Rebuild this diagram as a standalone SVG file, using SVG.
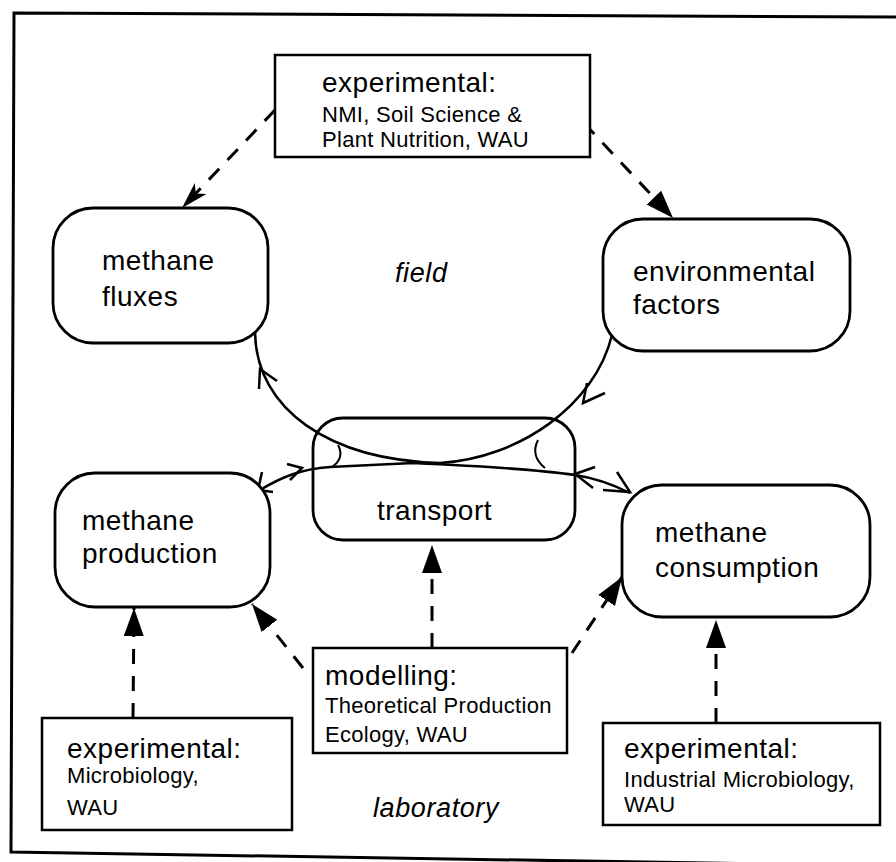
<svg xmlns="http://www.w3.org/2000/svg" width="896" height="862" viewBox="0 0 896 862">
<style>
.frame{fill:none;stroke:#000;stroke-width:3}
.node{fill:#fff;stroke:#000;stroke-width:2.8}
.box{fill:#fff;stroke:#000;stroke-width:2.5}
.big{font-family:"Liberation Sans",Arial,sans-serif;font-size:28px;letter-spacing:0.5px;fill:#000}
.small{font-family:"Liberation Sans",Arial,sans-serif;font-size:22px;letter-spacing:0.3px;fill:#000}
.ital{font-family:"Liberation Sans",Arial,sans-serif;font-size:27px;font-style:italic;letter-spacing:0.6px;fill:#000}
.dash{fill:none;stroke:#000;stroke-width:3;stroke-dasharray:15 12}
.solid{fill:none;stroke:#000;stroke-width:2.5}
.head{fill:none;stroke:#000;stroke-width:2.5;stroke-linejoin:miter}
.thin{fill:none;stroke:#000;stroke-width:2}
</style>
<defs>
<marker id="tri" viewBox="0 -11 29 22" markerWidth="29" markerHeight="22" refX="28" refY="0" orient="auto" markerUnits="userSpaceOnUse">
<path d="M0,-10 L28,0 L0,10 z" fill="#000"/>
</marker>
<marker id="dart" viewBox="0 -10 28 20" markerWidth="28" markerHeight="20" refX="27" refY="0" orient="auto" markerUnits="userSpaceOnUse">
<path d="M0,-8 L27,0 L0,8 L7,0 z" fill="#000"/>
</marker>
</defs>
<rect width="896" height="862" fill="#fff"/>
<path class="frame" d="M896,17 L14,13 L11,852 L896,866"/>

<g id="connectors">
<path class="dash" d="M275,110 L182,208" marker-end="url(#dart)"/>
<path class="dash" d="M584,123 L673,218" marker-end="url(#tri)"/>
<path class="dash" d="M133,718 L134,608" marker-end="url(#tri)"/>
<path class="dash" d="M303,668 L252,604" marker-end="url(#tri)"/>
<path class="dash" d="M432,648 L432,545" marker-end="url(#tri)"/>
<path class="dash" d="M572,653 L622,577" marker-end="url(#tri)"/>
<path class="dash" d="M716,723 L716,620" marker-end="url(#tri)"/>
<path class="solid" d="M255,332 C256,410 330,460 440,463 C520,458 595,405 612,335"/>
<path class="head" d="M277,381 L260,369 L259,389"/>
<path class="head" d="M587,383 L583,403 L605,393"/>
<path class="solid" d="M260,490 C280,478 300,469 330,467 L413,463 C480,466 540,470 575,475 C595,478 612,484 630,493"/>
<path class="head" d="M262,472 L258,490 L273,492"/>
<path class="head" d="M287,464 L302,468 L290,480"/>
<path class="head" d="M595,467 L575,474 L593,488"/>
<path class="head" d="M617,472 L630,492 L603,490"/>
<path class="thin" d="M338,445 Q345,458 332,467"/>
<path class="thin" d="M538,440 Q530,456 545,468"/>
</g>

<g id="top-box">
<rect class="box" x="275" y="55" width="315" height="102"/>
<text class="big" x="322" y="92">experimental:</text>
<text class="small" x="322" y="122">NMI, Soil Science &amp;</text>
<text class="small" x="322" y="147">Plant Nutrition, WAU</text>
</g>

<g id="methane-fluxes">
<rect class="node" x="53" y="208" width="215" height="135" rx="40" ry="40"/>
<text class="big" x="102" y="270">methane</text>
<text class="big" x="102" y="306">fluxes</text>
</g>

<g id="field-label">
<text class="ital" x="395" y="282">field</text>
</g>

<g id="environmental-factors">
<rect class="node" x="603" y="219" width="247" height="132" rx="40" ry="40"/>
<text class="big" x="633" y="281">environmental</text>
<text class="big" x="633" y="314">factors</text>
</g>

<g id="transport">
<rect class="node" x="313" y="418" width="262" height="122" rx="30" ry="30" style="fill:none"/>
<text class="big" x="377" y="520">transport</text>
</g>

<g id="methane-production">
<rect class="node" x="55" y="473" width="215" height="134" rx="40" ry="40"/>
<text class="big" x="82" y="530">methane</text>
<text class="big" x="82" y="563">production</text>
</g>

<g id="methane-consumption">
<rect class="node" x="622" y="485" width="248" height="132" rx="40" ry="40"/>
<text class="big" x="655" y="542">methane</text>
<text class="big" x="655" y="577">consumption</text>
</g>

<g id="exp-microbiology">
<rect class="box" x="42" y="718" width="250" height="112"/>
<text class="big" x="67" y="758">experimental:</text>
<text class="small" x="67" y="783">Microbiology,</text>
<text class="small" x="67" y="815">WAU</text>
</g>

<g id="modelling">
<rect class="box" x="313" y="648" width="254" height="105"/>
<text class="big" x="325" y="685">modelling:</text>
<text class="small" x="325" y="713">Theoretical Production</text>
<text class="small" x="325" y="742">Ecology, WAU</text>
</g>

<g id="exp-industrial">
<rect class="box" x="603" y="723" width="277" height="102"/>
<text class="big" x="624" y="758">experimental:</text>
<text class="small" x="624" y="787">Industrial Microbiology,</text>
<text class="small" x="624" y="812">WAU</text>
</g>

<g id="laboratory-label">
<text class="ital" x="373" y="817">laboratory</text>
</g>
</svg>
